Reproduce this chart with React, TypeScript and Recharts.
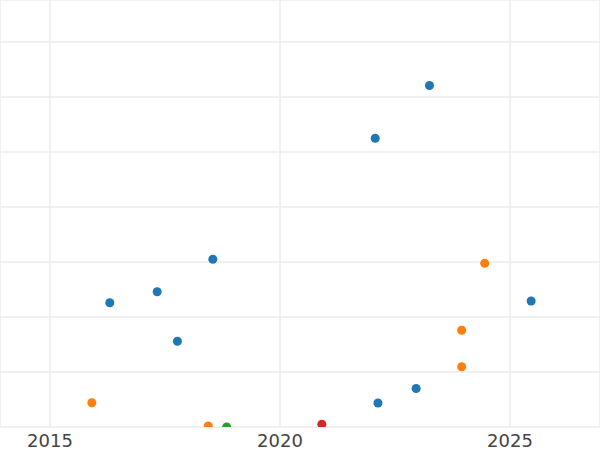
import React from "react";
import { ScatterChart, Scatter, XAxis, YAxis, ZAxis, CartesianGrid } from "recharts";

const blueX = [2023.25, 2022.07, 2018.54, 2017.33, 2016.3, 2017.77, 2025.46, 2022.96, 2022.13];
const blueY = [6.21, 5.25, 3.05, 2.46, 2.26, 1.56, 2.29, 0.7, 0.436];
const orangeX = [2024.45, 2023.95, 2023.95, 2015.91, 2018.44];
const orangeY = [2.976, 1.758, 1.096, 0.44, 0.02];
const greenX = [2018.84];
const greenY = [0.0];
const redX = [2020.91];
const redY = [0.05];

const xTicks = [2015, 2020, 2025];
const yTicks = [1, 2, 3, 4, 5, 6, 7];

const zip = (xs: number[], ys: number[]) => xs.map((x, i) => ({ x, y: ys[i] }));

const blue = zip(blueX, blueY);
const orange = zip(orangeX, orangeY);
const green = zip(greenX, greenY);
const red = zip(redX, redY);

const Tick = (props: any) => {
  const { x, y, payload } = props;
  return (
    <text x={x} y={y} dy={20} textAnchor="middle" fontSize={18} fill="#444" fontFamily="DejaVu Sans">
      {payload.value}
    </text>
  );
};

export default function App() {
  return (
    <div style={{ position: "absolute", left: 0, top: 0 }}>
      <ScatterChart width={600} height={450} margin={{ top: 0, right: 0, bottom: 0, left: 0 }}>
        <CartesianGrid stroke="#ebebeb" strokeWidth={1.4} />
        <XAxis
          type="number"
          dataKey="x"
          domain={[2013.913, 2026.957]}
          ticks={xTicks}
          allowDataOverflow
          axisLine={false}
          tickLine={false}
          tickSize={0}
          tickMargin={0}
          height={23}
          tick={<Tick />}
          interval={0}
        />
        <YAxis type="number" dataKey="y" domain={[0, 7.764]} ticks={yTicks} allowDataOverflow hide />
        <ZAxis range={[64, 64]} />
        <Scatter data={blue} fill="#1f77b4" isAnimationActive={false} />
        <Scatter data={orange} fill="#ff7f0e" isAnimationActive={false} />
        <Scatter data={green} fill="#2ca02c" isAnimationActive={false} />
        <Scatter data={red} fill="#d62728" isAnimationActive={false} />
      </ScatterChart>
    </div>
  );
}
